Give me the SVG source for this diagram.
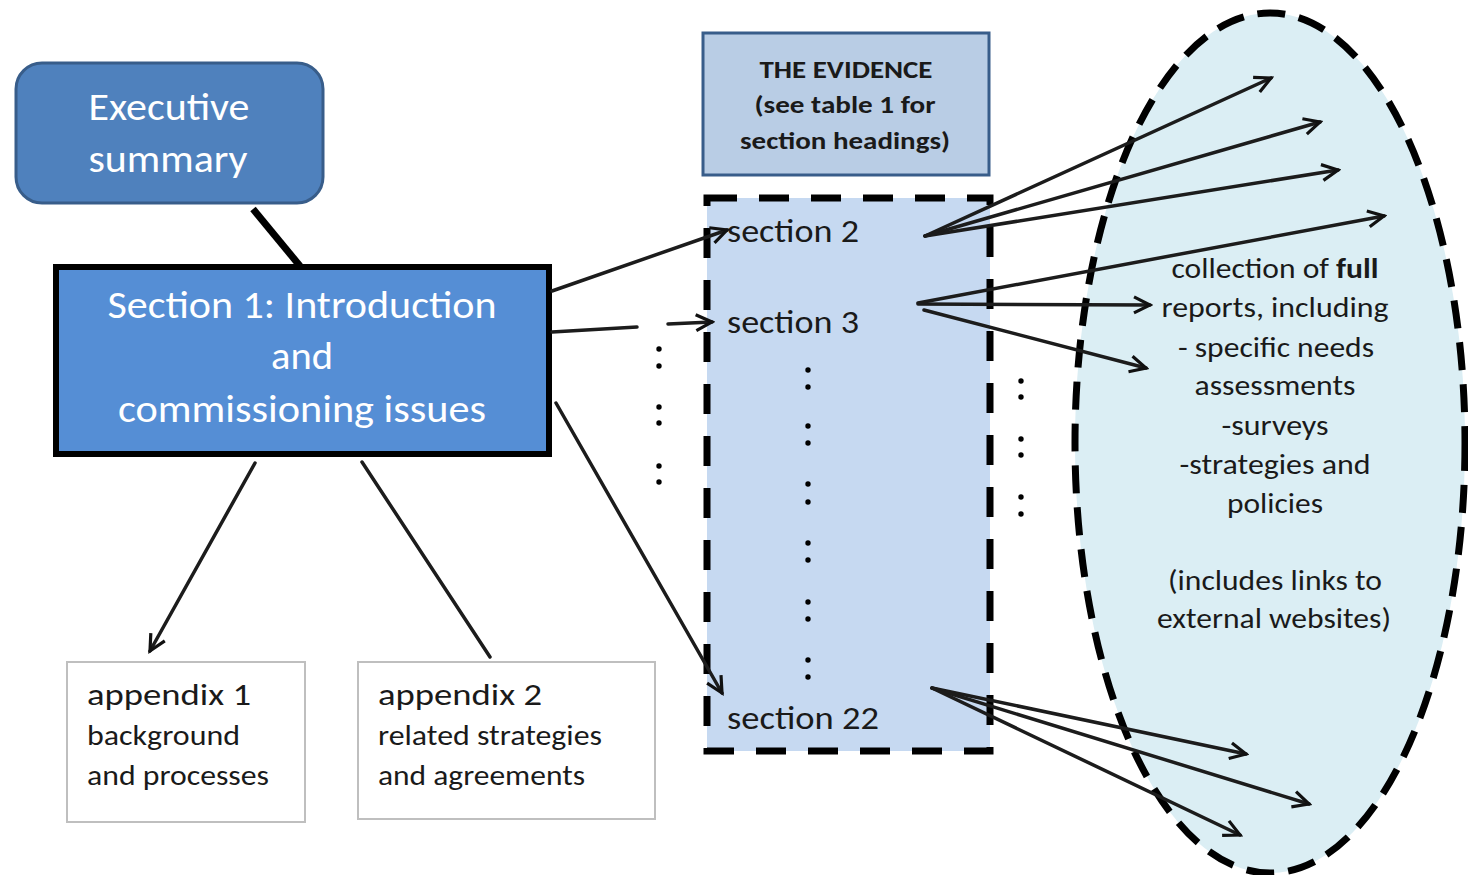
<svg xmlns="http://www.w3.org/2000/svg" width="1468" height="875" viewBox="0 0 1468 875">
  <style>
    .t { font-family: Carlito, Lato, "Liberation Sans", sans-serif; }
    .w { fill: #ffffff; }
    .k { fill: #1a1a1a; }
    .link { stroke: #1c1c1c; stroke-width: 3.5; fill: none; stroke-linecap: round; }
    .dot { fill: #000; }
  </style>
  <defs>
    <marker id="open" viewBox="0 0 24 24" markerWidth="24" markerHeight="24" refX="21" refY="12" orient="auto" markerUnits="userSpaceOnUse">
      <path d="M5,4 L21,12 L5,20" fill="none" stroke="#111" stroke-width="3.2" stroke-linejoin="miter"/>
    </marker>
  </defs>

  <rect width="1468" height="875" fill="#ffffff"/>

  <!-- evidence collection ellipse -->
  <g id="collection">
    <ellipse cx="1270" cy="443" rx="195" ry="430" fill="#dbeef4" stroke="#000" stroke-width="7" stroke-dasharray="28 14"/>
    <g class="t k" font-size="28" text-anchor="middle" lengthAdjust="spacingAndGlyphs">
      <text x="1275" y="278" textLength="207" lengthAdjust="spacingAndGlyphs">collection of <tspan font-weight="bold">full</tspan></text>
      <text x="1275" y="317" textLength="227" lengthAdjust="spacingAndGlyphs">reports, including</text>
      <text x="1276" y="357" textLength="196" lengthAdjust="spacingAndGlyphs">- specific needs</text>
      <text x="1275" y="395" textLength="161" lengthAdjust="spacingAndGlyphs">assessments</text>
      <text x="1275" y="435" textLength="107" lengthAdjust="spacingAndGlyphs">-surveys</text>
      <text x="1275" y="474" textLength="191" lengthAdjust="spacingAndGlyphs">-strategies and</text>
      <text x="1275" y="513" textLength="96" lengthAdjust="spacingAndGlyphs">policies</text>
      <text x="1275" y="590" textLength="214" lengthAdjust="spacingAndGlyphs">(includes links to</text>
      <text x="1274" y="628" textLength="234" lengthAdjust="spacingAndGlyphs">external websites)</text>
    </g>
  </g>

  <!-- executive summary -->
  <g id="exec">
    <rect x="16" y="63" width="307" height="140" rx="26" fill="#4f81bd" stroke="#385d8a" stroke-width="3"/>
    <g class="t w" font-size="38" text-anchor="middle">
      <text x="169" y="120" textLength="161" lengthAdjust="spacingAndGlyphs">Executive</text>
      <text x="168" y="172" textLength="159" lengthAdjust="spacingAndGlyphs">summary</text>
    </g>
  </g>

  <!-- section 1 -->
  <g id="section1">
    <rect x="56" y="267" width="493" height="187" fill="#558ed5" stroke="#000" stroke-width="6"/>
    <g class="t w" font-size="39" text-anchor="middle">
      <text x="302" y="318" textLength="389" lengthAdjust="spacingAndGlyphs">Section 1: Introduction</text>
      <text x="302" y="369" textLength="62" lengthAdjust="spacingAndGlyphs">and</text>
      <text x="302" y="422" textLength="368" lengthAdjust="spacingAndGlyphs">commissioning issues</text>
    </g>
  </g>

  <!-- evidence header -->
  <g id="evidence">
    <rect x="703" y="33" width="286" height="142" fill="#b9cde5" stroke="#385d8a" stroke-width="3"/>
    <g class="t k" font-size="25" font-weight="bold" text-anchor="middle">
      <text x="846" y="78" textLength="173" lengthAdjust="spacingAndGlyphs">THE EVIDENCE</text>
      <text x="845" y="113" textLength="181" lengthAdjust="spacingAndGlyphs">(see table 1 for</text>
      <text x="845" y="149" textLength="210" lengthAdjust="spacingAndGlyphs">section headings)</text>
    </g>
  </g>

  <!-- sections list -->
  <g id="sections">
    <rect x="707" y="198" width="283" height="553" fill="#c6d9f1" stroke="#000" stroke-width="7" stroke-dasharray="30 22"/>
    <g class="t k" font-size="32">
      <text x="727" y="242" textLength="132" lengthAdjust="spacingAndGlyphs">section 2</text>
      <text x="727" y="333" textLength="132" lengthAdjust="spacingAndGlyphs">section 3</text>
      <text x="727" y="729" textLength="152" lengthAdjust="spacingAndGlyphs">section 22</text>
    </g>
    <g class="dot">
      <circle cx="808" cy="370" r="2.7"/><circle cx="808" cy="387" r="2.7"/>
      <circle cx="808" cy="426" r="2.7"/><circle cx="808" cy="443" r="2.7"/>
      <circle cx="808" cy="484" r="2.7"/><circle cx="808" cy="502" r="2.7"/>
      <circle cx="808" cy="543" r="2.7"/><circle cx="808" cy="560" r="2.7"/>
      <circle cx="808" cy="602" r="2.7"/><circle cx="808" cy="619" r="2.7"/>
      <circle cx="808" cy="660" r="2.7"/><circle cx="808" cy="677" r="2.7"/>
    </g>
  </g>

  <!-- ellipsis dots between columns -->
  <g id="gaps" class="dot">
    <circle cx="659" cy="349" r="2.7"/><circle cx="659" cy="366" r="2.7"/>
    <circle cx="659" cy="407" r="2.7"/><circle cx="659" cy="423" r="2.7"/>
    <circle cx="659" cy="466" r="2.7"/><circle cx="659" cy="482" r="2.7"/>
    <circle cx="1021" cy="381" r="2.7"/><circle cx="1021" cy="397" r="2.7"/>
    <circle cx="1021" cy="439" r="2.7"/><circle cx="1021" cy="455" r="2.7"/>
    <circle cx="1021" cy="497" r="2.7"/><circle cx="1021" cy="514" r="2.7"/>
  </g>

  <!-- appendices -->
  <g id="appendix1">
    <rect x="67" y="662" width="238" height="160" fill="#fff" stroke="#bfbfbf" stroke-width="2"/>
    <text class="t k" x="87" y="705" font-size="31" textLength="164" lengthAdjust="spacingAndGlyphs">appendix 1</text>
    <g class="t k" font-size="28">
      <text x="87" y="745" textLength="153" lengthAdjust="spacingAndGlyphs">background</text>
      <text x="87" y="785" textLength="182" lengthAdjust="spacingAndGlyphs">and processes</text>
    </g>
  </g>
  <g id="appendix2">
    <rect x="358" y="662" width="297" height="157" fill="#fff" stroke="#bfbfbf" stroke-width="2"/>
    <text class="t k" x="378" y="705" font-size="31" textLength="164" lengthAdjust="spacingAndGlyphs">appendix 2</text>
    <g class="t k" font-size="28">
      <text x="378" y="745" textLength="224" lengthAdjust="spacingAndGlyphs">related strategies</text>
      <text x="378" y="785" textLength="207" lengthAdjust="spacingAndGlyphs">and agreements</text>
    </g>
  </g>

  <!-- connectors -->
  <g id="connectors">
    <line x1="253" y1="209" x2="300" y2="266" stroke="#000" stroke-width="7"/>
    <line class="link" x1="255" y1="463" x2="150" y2="651" marker-end="url(#open)"/>
    <line class="link" x1="362" y1="462" x2="490" y2="657"/>
    <line class="link" x1="552" y1="291" x2="727" y2="230" marker-end="url(#open)"/>
    <line class="link" x1="552" y1="332" x2="637" y2="327"/>
    <line class="link" x1="668" y1="324" x2="712" y2="322" marker-end="url(#open)"/>
    <line class="link" x1="556" y1="403" x2="722" y2="693" marker-end="url(#open)"/>

    <line class="link" x1="925" y1="236" x2="1271" y2="78" marker-end="url(#open)"/>
    <line class="link" x1="925" y1="236" x2="1320" y2="122" marker-end="url(#open)"/>
    <line class="link" x1="925" y1="236" x2="1338" y2="170" marker-end="url(#open)"/>

    <line class="link" x1="918" y1="303" x2="1384" y2="216" marker-end="url(#open)"/>
    <line class="link" x1="918" y1="304" x2="1150" y2="305" marker-end="url(#open)"/>
    <line class="link" x1="924" y1="310" x2="1146" y2="368" marker-end="url(#open)"/>

    <line class="link" x1="932" y1="688" x2="1246" y2="754" marker-end="url(#open)"/>
    <line class="link" x1="932" y1="688" x2="1309" y2="804" marker-end="url(#open)"/>
    <line class="link" x1="932" y1="688" x2="1240" y2="835" marker-end="url(#open)"/>
  </g>
</svg>
